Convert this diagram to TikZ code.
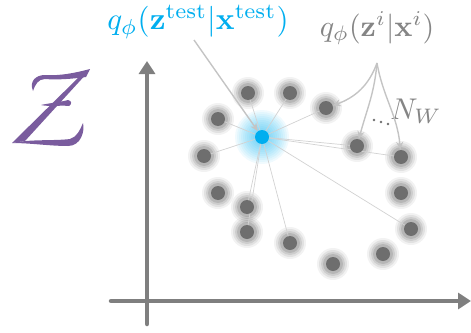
\documentclass[tikz,border=0pt]{standalone}
\usepackage{amsmath}
\usetikzlibrary{arrows.meta}
\definecolor{cyanpt}{HTML}{00AEEF}
\definecolor{axisgray}{HTML}{7F7F7F}
\definecolor{dotgray}{HTML}{6E6E6E}
\definecolor{linkgray}{HTML}{D2D2D2}
\definecolor{arrgray}{HTML}{C4C4C4}
\definecolor{txtgray}{HTML}{858585}
\definecolor{zpurple}{HTML}{7A5C9E}
\tikzset{
  axisline/.style={draw=axisgray, line width=4.5pt, -{Triangle[length=13pt,width=16pt]}},
  link/.style={draw=linkgray, line width=0.7pt},
  callout/.style={draw=arrgray, line width=1.4pt, -{Stealth[length=8pt,width=7pt]}},
  pt/.style={circle, fill=dotgray, inner sep=0pt, minimum size=14pt},
}
\newcommand{\halo}[1]{%
  \foreach \r/\o in {16/0.05,14/0.07,12/0.09,10/0.11}{\fill[black,opacity=\o] (#1) circle (\r pt);}}
\begin{document}
\begin{tikzpicture}[x=1pt,y=-1pt]
\useasboundingbox (0,0) rectangle (471,332);
% axes
\coordinate (xs) at (111,301);
\coordinate (xe) at (471,301);
\coordinate (ys) at (147,324);
\coordinate (ye) at (147,61);
\draw[axisline, line cap=round] (xs) -- (xe);
\draw[axisline, line cap=round] (ys) -- (ye);
% points
\foreach \n/\x/\y in {a/248/93, b/290/93, c/326/108, d/218/119, e/204/156, f/357/146, g/401/157,
  h/218/193, i/247/207, j/247/232, k/290/243, l/333/264, m/383/254, n/411/229, o/401/193}{
  \coordinate (c\n) at (\x,\y);
}
\foreach \n in {a,b,c,d,e,f,g,h,i,j,k,l,m,n,o}{\halo{c\n}}
% glow of test point
\coordinate (ct) at (262,137);
\foreach \r in {27,25,...,9}{\fill[cyanpt,opacity=0.06] (ct) circle (\r pt);}
% links
\foreach \n in {a,b,c,d,e,f,g,i,j,k,n}{\draw[link] (ct) -- (c\n);}
\foreach \n in {a,b,c,d,e,f,g,h,i,j,k,l,m,n,o}{\node[pt] (\n) at (c\n) {};}
\node[circle, fill=cyanpt, inner sep=0pt, minimum size=14pt] (t) at (ct) {};
% labels
\node[text=cyanpt, scale=3.1] (lt) at (198,22) {$q_\phi(\mathbf{z}^{\text{test}}|\mathbf{x}^{\text{test}})$};
\node[text=txtgray, scale=3.0] (li) at (377,28) {$q_\phi(\mathbf{z}^{i}|\mathbf{x}^{i})$};
\node[text=txtgray, scale=3] (nw) at (416,111) {$N_W$};
% calligraphic Z
\begin{scope}[fill=zpurple]
\fill (33,91) .. controls (29,81) and (36,75) .. (45,75) .. controls (60,76) and (75,73) .. (90,69)
  -- (86,77) .. controls (72,79) and (56,80) .. (45,79) .. controls (38,79) and (35,85) .. (33,91) -- cycle;
\fill (81,75) -- (89,71) -- (25,141) -- (12,143) -- cycle;
\fill (12,143) .. controls (30,139) and (55,141) .. (70,139) .. controls (77,137) and (80,130) .. (83,123)
  .. controls (85,131) and (81,146) .. (68,146) .. controls (50,146) and (30,143) .. (12,143) -- cycle;
\fill (41,105) .. controls (50,103) and (61,102) .. (68,100) .. controls (72,101) and (72,104) .. (69,106)
  .. controls (60,105) and (50,107) .. (41,105) -- cycle;
\end{scope}
% callouts
\coordinate (lts) at (194,40);
\draw[callout] (lts) -- (t);
\coordinate (src) at (377,63);
\draw[callout] (src) to[out=250, in=20] (c);
\draw[callout] (src) to[out=265, in=75] (f);
\draw[callout] (src) to[out=280, in=95] (g);
\fill[dotgray] (374,120) circle (1.4pt) (381,122) circle (1.4pt) (388,124) circle (1.4pt);
\end{tikzpicture}
\end{document}
